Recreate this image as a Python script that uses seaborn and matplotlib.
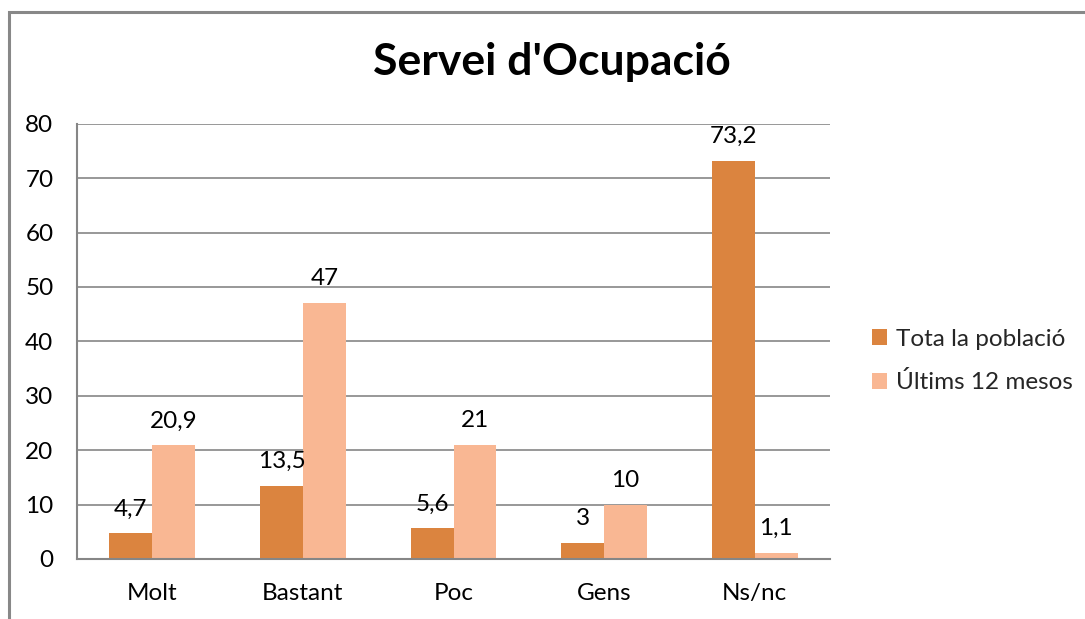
import matplotlib
matplotlib.use("Agg")
import matplotlib.pyplot as plt
import seaborn as sns
import pandas as pd
from matplotlib.patches import Rectangle

categories = ["Molt", "Bastant", "Poc", "Gens", "Ns/nc"]
series_names = ["Tota la població", "Últims 12 mesos"]
tota = [4.7, 13.5, 5.6, 3, 73.2]
ultims = [20.9, 47, 21, 10, 1.1]
y_ticks = [0, 10, 20, 30, 40, 50, 60, 70, 80]

colors = ["#DB843F", "#F9B793"]

df = pd.DataFrame({
    "categoria": categories * 2,
    "serie": [series_names[0]] * len(categories) + [series_names[1]] * len(categories),
    "valor": tota + ultims,
})

sns.set_theme(style="white")
plt.rcParams["font.family"] = ["Lato", "DejaVu Sans"]

FS = 17.5

fig = plt.figure(figsize=(10.85, 6.19), dpi=100)
ax = fig.add_axes([0.071, 0.097, 0.694, 0.703])

sns.barplot(data=df, x="categoria", y="valor", hue="serie", palette=colors,
            width=0.57, saturation=1, ax=ax, legend=True, errorbar=None)

for p in ax.patches:
    p.set_linewidth(0)

ax.set_ylim(0, 80)
ax.set_yticks(y_ticks)
ax.set_xlim(-0.5, len(categories) - 0.5)
ax.yaxis.grid(True, color="#868686", linewidth=1.2)
ax.set_axisbelow(True)
for side in ["top", "right"]:
    ax.spines[side].set_visible(False)
for side in ["left", "bottom"]:
    ax.spines[side].set_color("#868686")
    ax.spines[side].set_linewidth(1.5)
ax.set_xlabel("")
ax.set_ylabel("")
ax.tick_params(axis="y", labelsize=FS, colors="black", pad=17, length=0)
ax.tick_params(axis="x", labelsize=FS, colors="black", pad=17, length=0)

for cont in ax.containers:
    labels = [f"{v:g}".replace(".", ",") for v in cont.datavalues]
    ax.bar_label(cont, labels=labels, padding=10, fontsize=FS, color="black")

leg = ax.legend(loc="center left", bbox_to_anchor=(872 / 1085, 1 - 361 / 619),
                bbox_transform=fig.transFigure, borderaxespad=0, borderpad=0,
                frameon=False, fontsize=FS, handlelength=0.6, handleheight=0.6,
                handletextpad=0.4, labelspacing=0.9)

fig.text(0.509, 1 - 62 / 619, "Servei d'Ocupació", ha="center", va="center",
         fontsize=32, fontweight="bold", color="black")

# outer chart frame
fig.add_artist(Rectangle((8.5 / 1085, -0.1), 1.2, 1.1 - 11.5 / 619,
                         transform=fig.transFigure, fill=False,
                         edgecolor="#888888", linewidth=2.2, clip_on=False))

fig.savefig("out.png", dpi=100, facecolor="white")
